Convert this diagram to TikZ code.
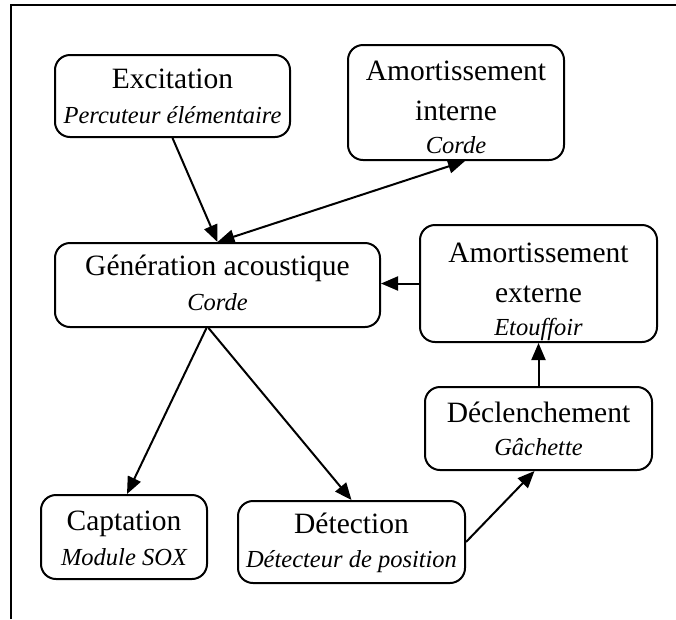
\documentclass[tikz,border=0pt]{standalone}
\usepackage{fontspec}
\setmainfont{Liberation Serif}
\usetikzlibrary{arrows.meta}
\tikzset{
  box/.style={draw, line width=2pt, rounded corners=15pt, inner sep=0pt},
  ttl/.style={anchor=base, inner sep=0pt, font=\fontsize{29.5}{31}\selectfont},
  sub/.style={anchor=base, inner sep=0pt, font=\fontsize{24.5}{26}\selectfont\itshape},
  arr/.style={line width=2pt, -{Triangle[length=17pt,width=14pt]}},
  darr/.style={line width=2pt, {Triangle[length=17pt,width=14pt]}-{Triangle[length=17pt,width=14pt]}}
}
\begin{document}
\begin{tikzpicture}[x=1pt,y=-1pt]
\useasboundingbox (0,0) rectangle (676,619);
\draw[line width=2.5pt] (11,619) -- (11,5) -- (676,5);
% boxes
\node[box, minimum width=235pt, minimum height=82pt] (exc) at (172.5,96) {};
\node[box, minimum width=216pt, minimum height=115pt] (ami) at (456,102.5) {};
\node[box, minimum width=325pt, minimum height=84pt] (gen) at (217.5,285) {};
\node[box, minimum width=237pt, minimum height=117pt] (ame) at (538.5,283.5) {};
\node[box, minimum width=227pt, minimum height=83pt] (dec) at (538.5,428.5) {};
\node[box, minimum width=166pt, minimum height=84pt] (cap) at (124,537) {};
\node[box, minimum width=227pt, minimum height=82pt] (det) at (351.5,542) {};
% texts
\node[ttl] (exct) at (172.5,88) {Excitation};
\node[sub] (excs) at (172.5,123) {Percuteur élémentaire};
\node[ttl] (amit1) at (456,80) {Amortissement};
\node[ttl] (amit2) at (456,120) {interne};
\node[sub] (amis) at (456,153) {Corde};
\node[ttl] (gent) at (217.5,275) {Génération acoustique};
\node[sub] (gens) at (217.5,310) {Corde};
\node[ttl] (amet1) at (538.5,262) {Amortissement};
\node[ttl] (amet2) at (538.5,302) {externe};
\node[sub] (ames) at (538.5,335) {Etouffoir};
\node[ttl] (dect) at (538.5,422) {Déclenchement};
\node[sub] (decs) at (538.5,455) {Gâchette};
\node[ttl] (capt) at (124,530) {Captation};
\node[sub] (caps) at (124,565) {Module SOX};
\node[ttl] (dett) at (351.5,533) {Détection};
\node[sub] (dets) at (351.5,567) {Détecteur de position};
% connectors
\draw[arr] (exc.south) -- (gen.north);
\draw[darr] (gen.north) -- ([xshift=9pt]ami.south);
\draw[arr] (ame.west) -- (ame.west -| gen.east);
\draw[arr] (dec.north) -- (ame.south);
\draw[arr] ([xshift=-11pt]gen.south) -- ([xshift=3pt]cap.north);
\draw[arr] ([xshift=-9pt]gen.south) -- (det.north);
\draw[arr] (det.east) -- ([xshift=-4pt]dec.south);
\end{tikzpicture}
\end{document}
